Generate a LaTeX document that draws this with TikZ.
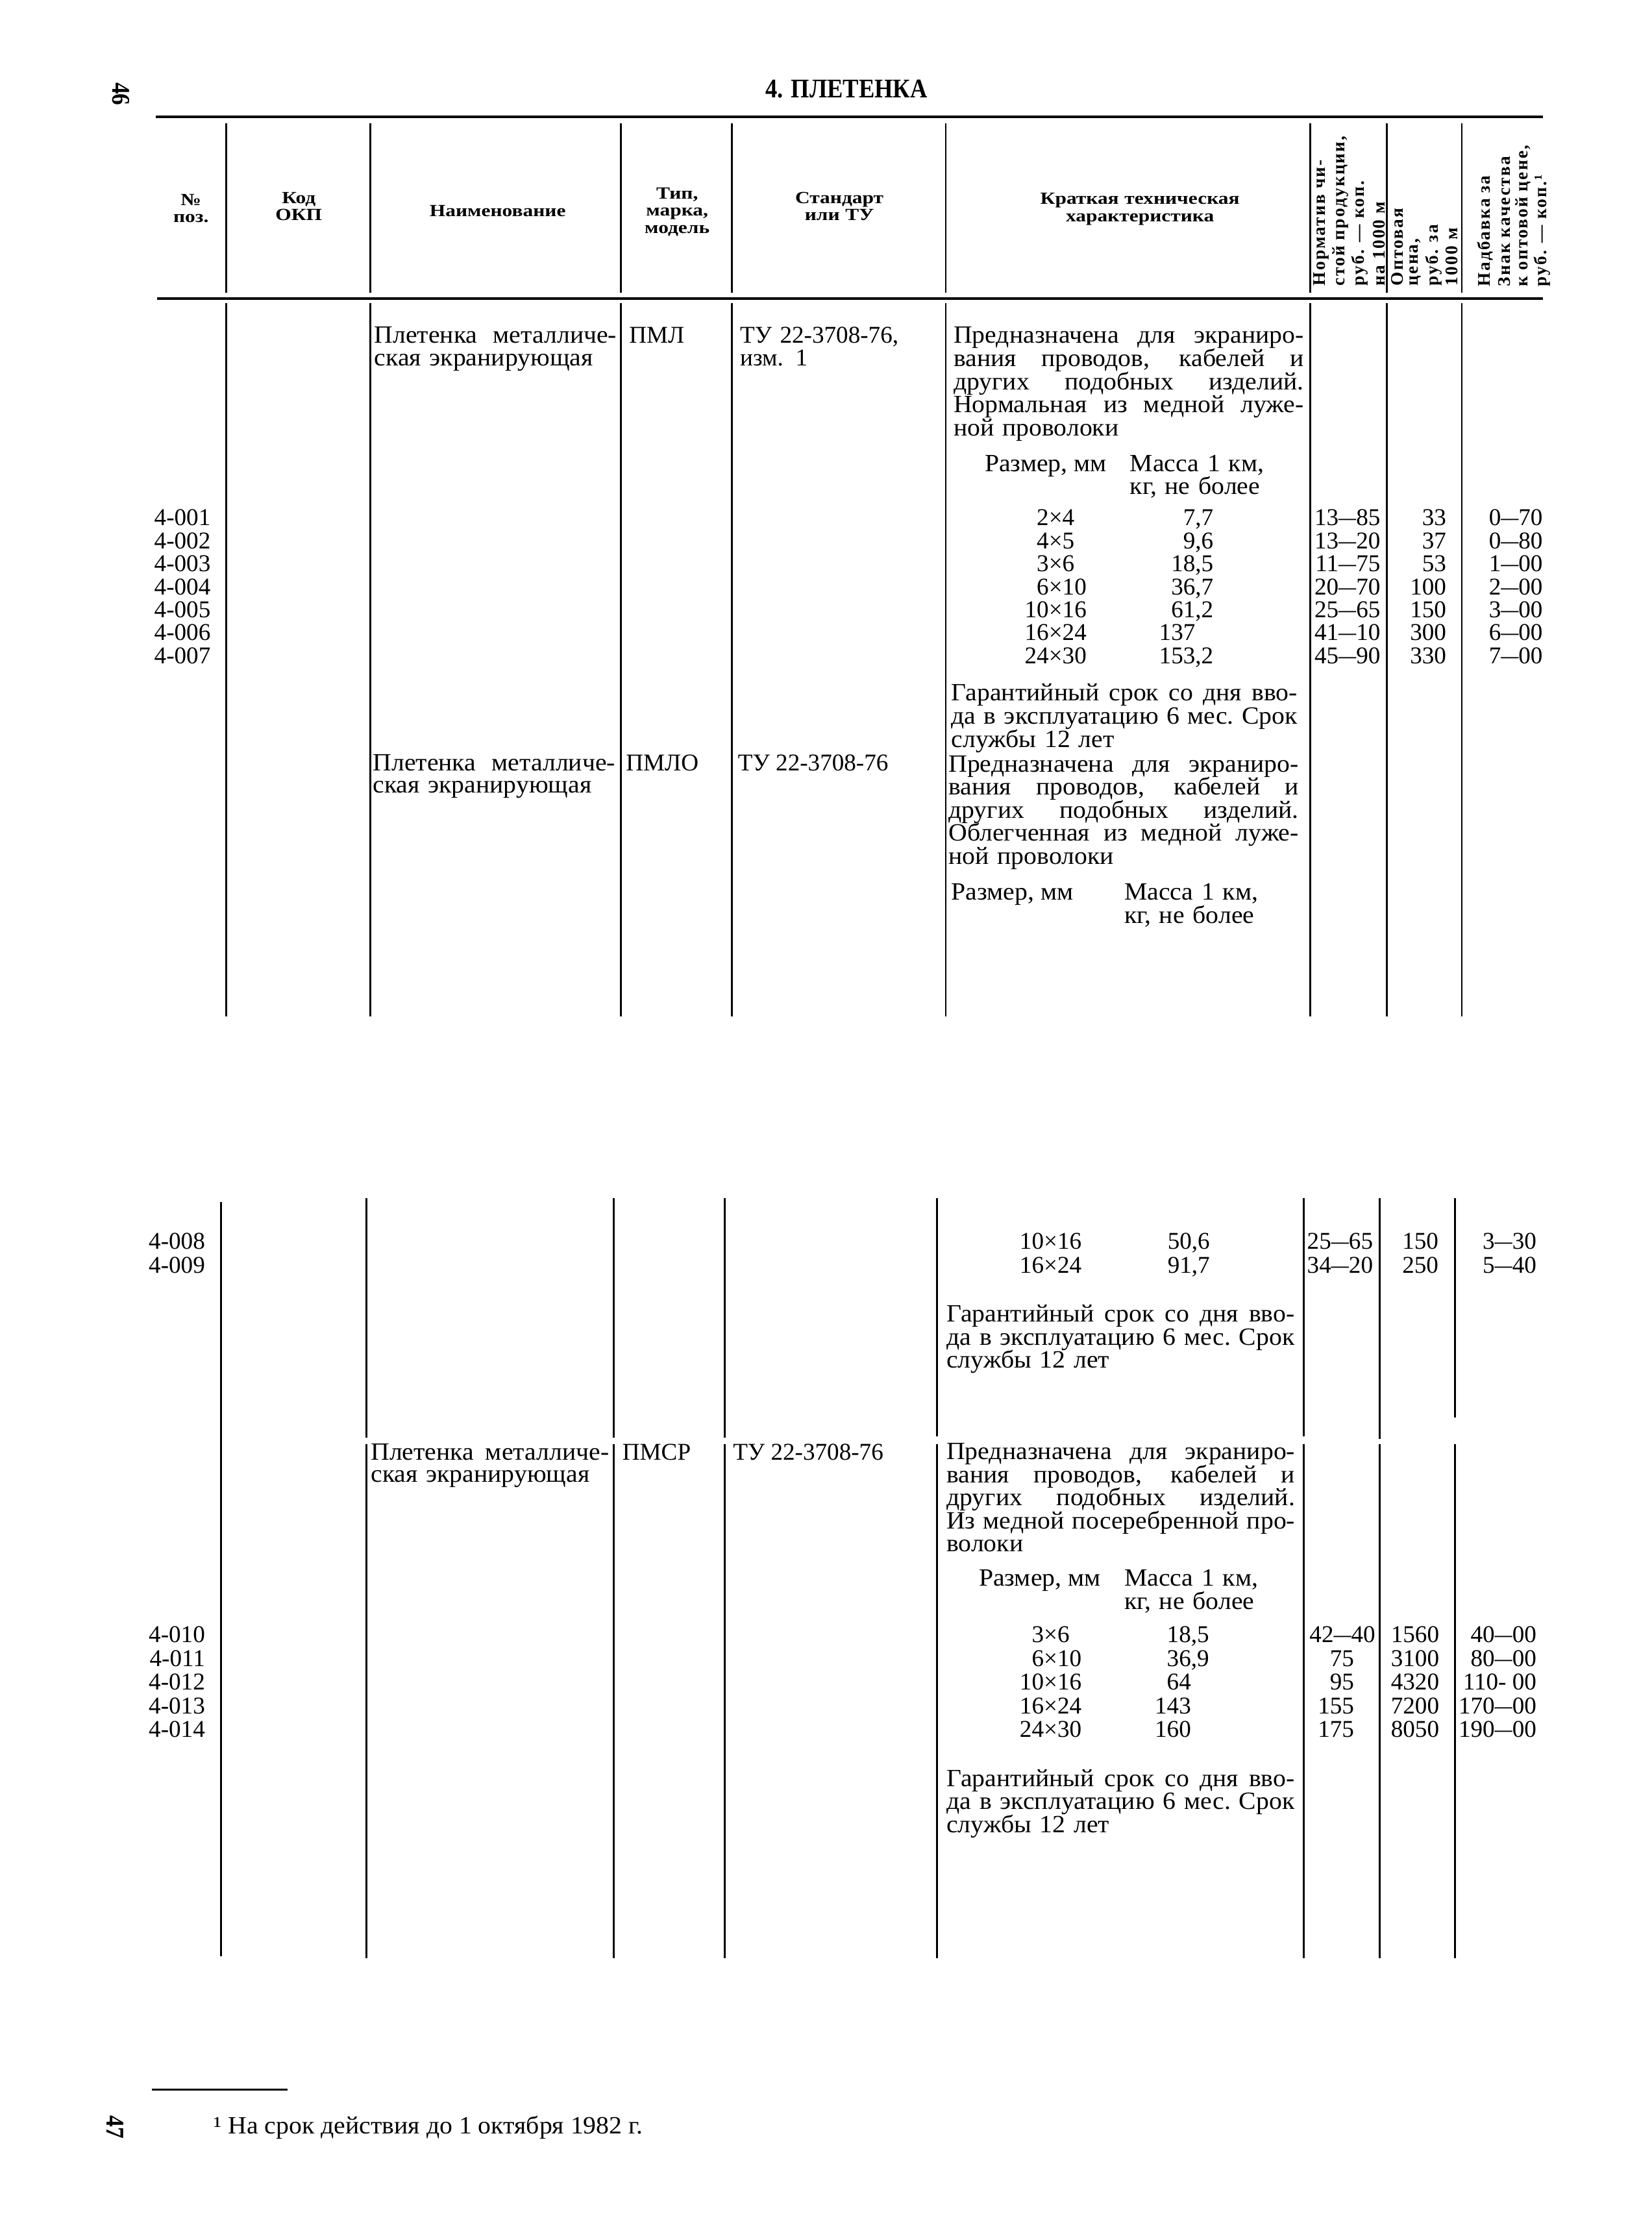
\documentclass[tikz,border=0pt]{standalone}
\usepackage{fontspec}
\usepackage{graphicx}
\setmainfont{Liberation Serif}
\newfontfamily\bodyfam[FakeStretch=1.04]{Liberation Serif}
\newfontfamily\numfam{Liberation Serif}
\newfontfamily\hdrfam[FakeStretch=1.2]{Liberation Serif}
\newfontfamily\rotfam[LetterSpace=8]{Liberation Serif}
\newfontfamily\titfam[FakeStretch=0.88]{Liberation Serif}
\newfontfamily\pgnfam[FakeStretch=0.9]{Liberation Serif}
\newcommand\bodyf{\bodyfam\fontsize{17.5}{16.3}\selectfont\lineskiplimit=-30pt\relax}
\newcommand\namef{\bodyfam\fontsize{17.5}{15.8}\selectfont\lineskiplimit=-30pt\relax}
\newcommand\numf{\numfam\fontsize{17}{16}\selectfont\lineskiplimit=-30pt\relax}
\newcommand\hdrf{\hdrfam\bfseries\fontsize{12}{12}\selectfont\lineskiplimit=-30pt\relax}
\newcommand\rotf{\rotfam\bfseries\fontsize{12.5}{13}\selectfont}
\newcommand\titf{\titfam\bfseries\fontsize{19}{20}\selectfont}
\newcommand\pgnf{\pgnfam\bfseries\fontsize{18}{18}\selectfont}
\newcommand\dd{\scalebox{0.73}[1]{—}}
\newcommand\J[1]{\makebox[\linewidth][s]{\spaceskip=0.25em plus 1fil\xspaceskip=0.25em plus 1fil\relax #1}}
\begin{document}
\begin{tikzpicture}[x=1pt,y=-1pt,
  every node/.style={inner sep=0pt,outer sep=0pt},
  tx/.style={font=\bodyf,anchor=base west,align=left},
  nm/.style={font=\namef,anchor=base west,align=left},
  nt/.style={font=\numf,anchor=base west,align=left},
  num/.style={font=\numf,anchor=base east},
  hdr/.style={font=\hdrf,anchor=base,align=center,text width=140pt},
  rot/.style={font=\rotf,rotate=90,anchor=west},
  rl/.style={line width=1.6pt},
  vl/.style={line width=1.3pt}]
\fill[white] (0,0) rectangle (1165.1,1568);
\useasboundingbox (0,0) rectangle (1165.1,1568);

% page numbers, title
\node[font=\pgnf,rotate=-90] (p46) at (85.5,66.3) {46};
\node[font=\pgnf,rotate=-90] (p47) at (81.4,1500.4) {47};
\node[font=\titf,anchor=base] (title) at (597,68.7) {4. ПЛЕТЕНКА};

% rules
\draw[rl] (110,82.5) -- (1088,82.5);
\draw[rl] (111,210.5) -- (1088,210.5);
\draw[vl] (107,1474) -- (203,1474);

% header and section A verticals
\foreach \x in {159.5,261,438,516,667,924,978,1031}{
  \draw[vl] (\x,87) -- (\x,206.5);
  \draw[vl] (\x,214) -- (\x,717);
}
% section B verticals
\draw[vl] (156,848) -- (156,1380);
\foreach \x/\e in {258.6/1014,433/1014,511/1014,661/1013,919.5/1013,973/1015,1026/1000}{
  \draw[vl] (\x,845) -- (\x,\e);
  \draw[vl] (\x,1018.5) -- (\x,1381);
}

% header texts
\node[hdr] (hno) at (134.7,145) {№\\поз.};
\node[hdr] (hkod) at (210.7,143.4) {Код\\ОКП};
\node[hdr] (hname) at (351,152.9) {Наименование};
\node[hdr] (htip) at (477.6,140.4) {Тип,\\марка,\\модель};
\node[hdr] (hstd) at (592,143.4) {Стандарт\\или ТУ};
\node[hdr,text width=200pt] (hchar) at (804,144.2) {Краткая техническая\\характеристика};
\node[rot] (h7a) at (932,201.5) {Норматив чи-};
\node[rot] (h7b) at (945.5,201.5) {стой продукции,};
\node[rot] (h7c) at (959,201.5) {руб. — коп.};
\node[rot] (h7d) at (972.5,201.5) {на 1000 м};
\node[rot] (h8a) at (985.5,201.5) {Оптовая};
\node[rot] (h8b) at (998.3,201.5) {цена,};
\node[rot] (h8c) at (1011.1,201.5) {руб. за};
\node[rot] (h8d) at (1023.9,201.5) {1000 м};
\node[rot] (h9a) at (1047.5,202) {Надбавка за};
\node[rot] (h9b) at (1060.8,202) {Знак качества};
\node[rot] (h9c) at (1074.1,202) {к оптовой цене,};
\node[rot] (h9d) at (1087.4,202) {руб. — коп.¹};

% ---- section A: ПМЛ
\node[nm,text width=171pt] (nA) at (264,242.1) {\J{Плетенка металличе-}\\ская экранирующая};
\node[nt] (tA) at (443.8,242.1) {ПМЛ};
\node[nt,text width=140pt] (sA) at (522,242.1) {ТУ 22-3708-76,\\изм. 1};
\node[tx,text width=247pt] (dA) at (672.6,242.1) {\J{Предназначена для экраниро-}\\\J{вания проводов, кабелей и}\\\J{других подобных изделий.}\\\J{Нормальная из медной луже-}\\ной проволоки};
\node[tx] (rA) at (694.6,332.4) {Размер, мм};
\node[tx,text width=120pt] (mA) at (797,332.4) {Масса 1 км,\\кг, не более};
\foreach \y/\p/\sa/\sb/\mi/\mf/\c/\o/\n in {
 370.8/001/2/4/7/{,7}/13\dd85/33/0\dd70,
 387.0/002/4/5/9/{,6}/13\dd20/37/0\dd80,
 403.2/003/3/6/18/{,5}/11\dd75/53/1\dd00,
 419.4/004/6/10/36/{,7}/20\dd70/100/2\dd00,
 435.6/005/10/16/61/{,2}/25\dd65/150/3\dd00,
 451.8/006/16/24/137/{}/41\dd10/300/6\dd00,
 468.0/007/24/30/153/{,2}/45\dd90/330/7\dd00}{
 \node[num] (pa\p) at (148.5,\y) {4-\p};
 \node[num,anchor=base] (sa\p) at (744.5,\y) {\llap{\sa}×\rlap{\sb}};
 \node[num] (ma\p) at (843,\y) {\mi};
 \node[num,anchor=base west] (fa\p) at (843,\y) {\mf};
 \node[num] (ca\p) at (973.5,\y) {\c};
 \node[num] (oa\p) at (1020,\y) {\o};
 \node[num] (na\p) at (1088,\y) {\n};
}
\node[tx,text width=244pt] (gA) at (671,494.4) {\J{Гарантийный срок со дня вво-}\\\J{да в эксплуатацию 6 мес. Срок}\\службы 12 лет};

% ---- ПМЛО
\node[nm,text width=171pt] (nB) at (263,543.6) {\J{Плетенка металличе-}\\ская экранирующая};
\node[nt] (tB) at (441.5,543.6) {ПМЛО};
\node[nt] (sB) at (520.5,543.6) {ТУ 22-3708-76};
\node[tx,text width=247pt] (dB) at (669,544.4) {\J{Предназначена для экраниро-}\\\J{вания проводов, кабелей и}\\\J{других подобных изделий.}\\\J{Облегченная из медной луже-}\\ной проволоки};
\node[tx] (rB) at (671,634.7) {Размер, мм};
\node[tx,text width=120pt] (mB) at (793,634.7) {Масса 1 км,\\кг, не более};

% ---- section B: continuation
\foreach \y/\p/\sa/\sb/\mi/\mf/\c/\o/\n in {
 881.2/008/10/16/50/{,6}/25\dd65/150/3\dd30,
 897.9/009/16/24/91/{,7}/34\dd20/250/5\dd40}{
 \node[num] (pb\p) at (144.6,\y) {4-\p};
 \node[num,anchor=base] (sb\p) at (741,\y) {\llap{\sa}×\rlap{\sb}};
 \node[num] (mb\p) at (840.5,\y) {\mi};
 \node[num,anchor=base west] (fb\p) at (840.5,\y) {\mf};
 \node[num] (cb\p) at (968.3,\y) {\c};
 \node[num] (ob\p) at (1014.5,\y) {\o};
 \node[num] (nb\p) at (1083.6,\y) {\n};
}
\node[tx,text width=245.5pt] (gB) at (667.6,932.3) {\J{Гарантийный срок со дня вво-}\\\J{да в эксплуатацию 6 мес. Срок}\\службы 12 лет};

% ---- ПМСР
\node[nm,text width=168pt] (nC) at (261.6,1029.7) {\J{Плетенка металличе-}\\ская экранирующая};
\node[nt] (tC) at (439,1029.7) {ПМСР};
\node[nt] (sC) at (517,1029.7) {ТУ 22-3708-76};
\node[tx,text width=245.8pt] (dC) at (667.6,1029.4) {\J{Предназначена для экраниро-}\\\J{вания проводов, кабелей и}\\\J{других подобных изделий.}\\\J{Из медной посеребренной про-}\\волоки};
\node[tx] (rC) at (690.4,1118.7) {Размер, мм};
\node[tx,text width=120pt] (mC) at (793,1118.7) {Масса 1 км,\\кг, не более};
\foreach \y/\p/\sa/\sb/\mi/\mf/\c/\cx/\o/\n in {
 1158.4/010/3/6/18/{,5}/42\dd40/970/1560/40\dd00,
 1175.2/011/6/10/36/{,9}/75/955/3100/80\dd00,
 1191.9/012/10/16/64/{}/95/955/4320/110- 00,
 1208.7/013/16/24/143/{}/155/955/7200/170\dd00,
 1225.4/014/24/30/160/{}/175/955/8050/190\dd00}{
 \node[num] (pc\p) at (144.6,\y) {4-\p};
 \node[num,anchor=base] (sc\p) at (741,\y) {\llap{\sa}×\rlap{\sb}};
 \node[num] (mc\p) at (840,\y) {\mi};
 \node[num,anchor=base west] (fc\p) at (840,\y) {\mf};
 \node[num] (cc\p) at (\cx,\y) {\c};
 \node[num] (oc\p) at (1015,\y) {\o};
 \node[num] (nc\p) at (1083.6,\y) {\n};
}
\node[tx,text width=245.5pt] (gC) at (667.6,1260) {\J{Гарантийный срок со дня вво-}\\\J{да в эксплуатацию 6 мес. Срок}\\службы 12 лет};

% footnote
\node[tx] (fn) at (151,1505.2) {¹ На срок действия до 1 октября 1982 г.};
\end{tikzpicture}
\end{document}
